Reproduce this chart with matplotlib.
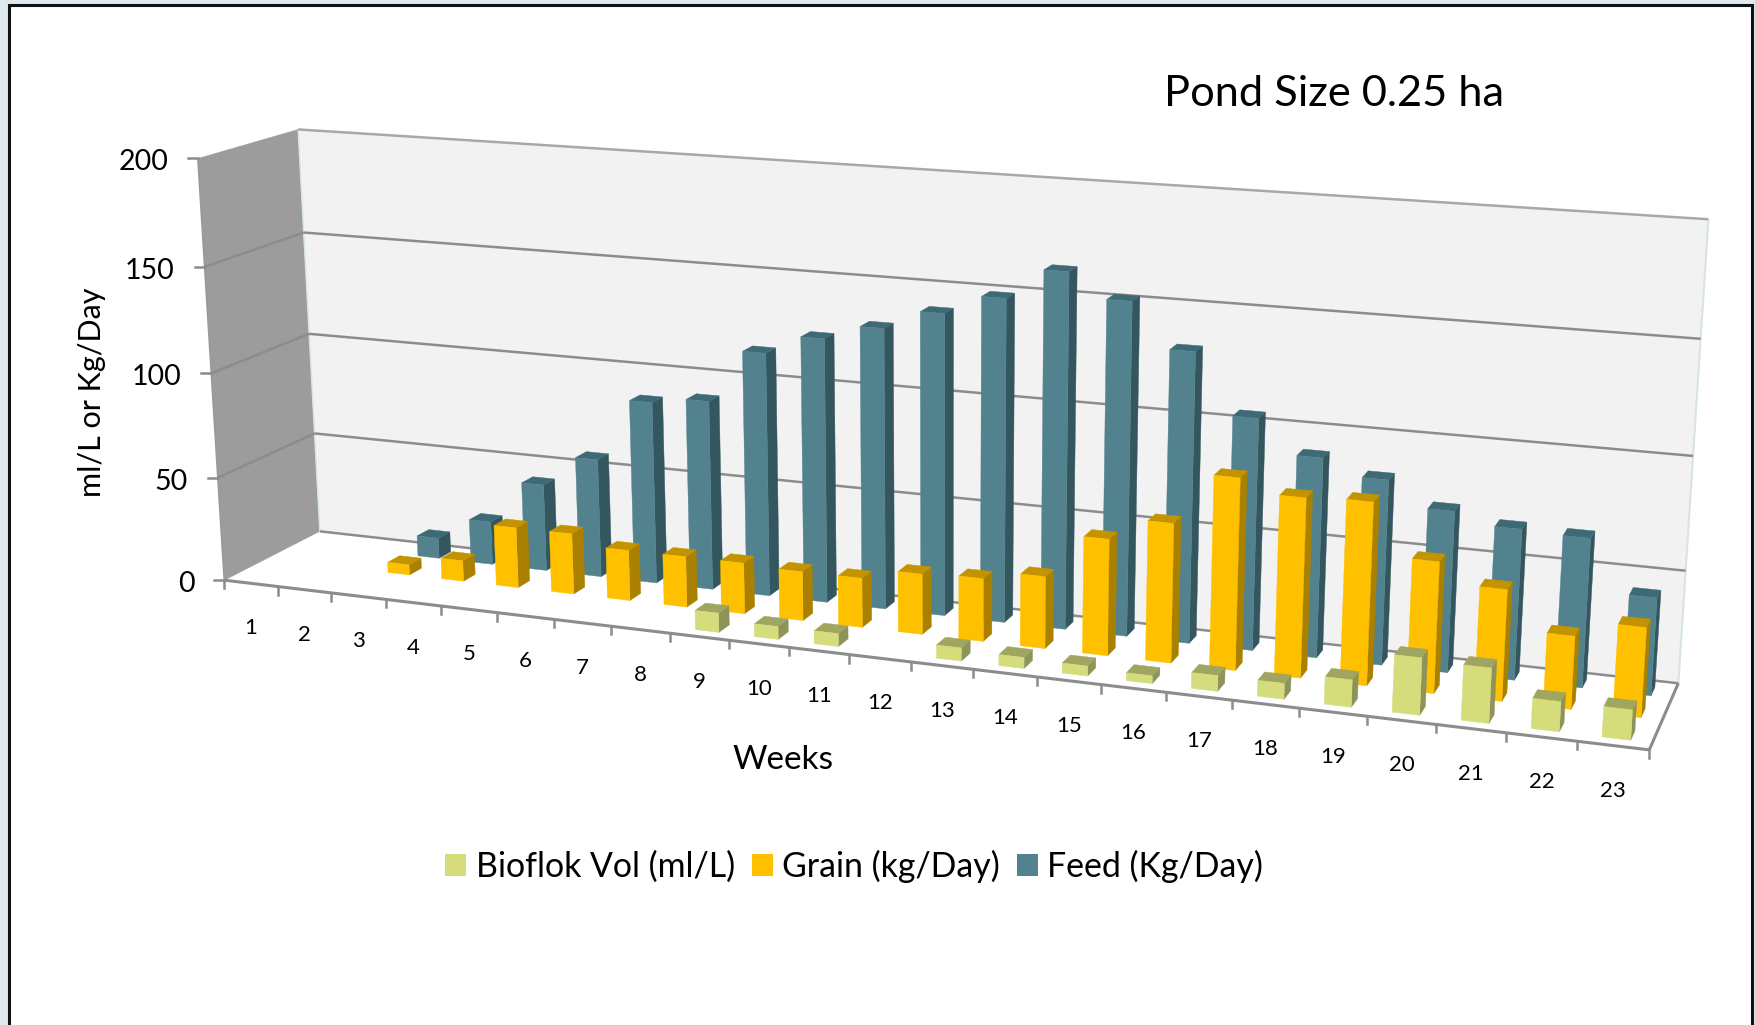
"""Weekly bioflok, grain and feed for a 0.25 ha pond, drawn as a 3D column chart."""

import numpy as np
import matplotlib
matplotlib.use("Agg")
import matplotlib.pyplot as plt
from matplotlib.patches import Patch, Polygon, Rectangle

plt.rcParams["font.family"] = ["Lato", "DejaVu Sans"]

weeks = [str(w) for w in range(1, 24)]
feed = [0, 0, 10, 21, 42, 57, 87, 90, 115, 124, 131, 140, 149, 163, 152, 132,
        105, 90, 83, 72, 67, 66, 43]
grain = [0, 0, 5, 10, 29, 29, 24, 24, 24, 23, 23, 28, 29, 33, 53, 63,
         86, 80, 81, 58, 49, 32, 39]
bioflok = [0, 0, 0, 0, 0, 0, 0, 0, 9, 6, 6, 0, 6, 5, 4.5, 3.5,
           7, 7, 12, 25, 24, 13, 13]
value_ticks = [0, 50, 100, 150, 200]

# front, side, top colours per series, back row first
SERIES = [
    ("Feed (Kg/Day)", feed, 0.767, ("#53828F", "#34565F", "#3E6A76")),
    ("Grain (kg/Day)", grain, 0.433, ("#FFC000", "#AA8000", "#C49400")),
    ("Bioflok Vol (ml/L)", bioflok, 0.100, ("#D4DC7C", "#8E9357", "#A0A55F")),
]
BAR_DEPTH = 0.133
GRID = "#8C8C8C"

# picture positions of the box corners, (week, depth, value) -> (px, py)
CAMERA_POINTS = [
    ((0, 0, 0), (224, 580)), ((23, 0, 0), (1649, 749)),
    ((0, 1, 0), (320, 531)), ((23, 1, 0), (1679, 683)),
    ((0, 0, 200), (198, 158)), ((0, 1, 200), (298, 130)),
    ((23, 1, 200), (1709, 219)), ((0, 1, 100), (309, 334)),
    ((23, 1, 100), (1692, 456)), ((0, 0, 100), (212, 373)),
    ((8, 0, 0), (670, 633)), ((17, 0, 0), (1232, 702)),
]


def fit_camera(points):
    rows, rhs = [], []
    for (x, d, z), (u, v) in points:
        rows.append([x, d, z, 1, 0, 0, 0, 0, -u * x, -u * d, -u * z])
        rows.append([0, 0, 0, 0, x, d, z, 1, -v * x, -v * d, -v * z])
        rhs += [u, v]
    sol = np.linalg.lstsq(np.array(rows, float), np.array(rhs, float), rcond=None)[0]
    return np.append(sol, 1).reshape(3, 4)


CAM = fit_camera(CAMERA_POINTS)


def project(x, d, z):
    u, v, w = CAM @ np.array([x, d, z, 1.0])
    return u / w, v / w


def face(ax, corners, color, zorder):
    ax.add_patch(Polygon([project(*c) for c in corners], closed=True, facecolor=color,
                         edgecolor=color, lw=0.3, zorder=zorder))


def line3d(ax, a, b, color=GRID, lw=1.8, zorder=2):
    pa, pb = project(*a), project(*b)
    ax.plot([pa[0], pb[0]], [pa[1], pb[1]], color=color, lw=lw, zorder=zorder,
            solid_capstyle="butt")


def draw_bar(ax, k, d0, value, colors, zorder):
    x0, x1 = k + 0.3, k + 0.7
    d1 = d0 + BAR_DEPTH
    front, side, top = colors
    face(ax, [(x1, d0, 0), (x1, d1, 0), (x1, d1, value), (x1, d0, value)], side, zorder)
    face(ax, [(x0, d0, value), (x1, d0, value), (x1, d1, value), (x0, d1, value)], top, zorder)
    face(ax, [(x0, d0, 0), (x1, d0, 0), (x1, d0, value), (x0, d0, value)], front, zorder)


fig = plt.figure(figsize=(17.56, 10.25), dpi=100, facecolor="#DEE8ED")
ax = fig.add_axes([0, 0, 1, 1])
ax.set_xlim(0, 1756)
ax.set_ylim(1025, 0)
ax.axis("off")

# slide frame
ax.add_patch(Rectangle((9, 5), 1743, 1040, facecolor="white", edgecolor="#111111", lw=2.2, zorder=0))

# walls and floor
n = len(weeks)
face(ax, [(0, 0, 0), (0, 1, 0), (0, 1, 200), (0, 0, 200)], "#9C9C9C", 1)
face(ax, [(0, 1, 0), (n, 1, 0), (n, 1, 200), (0, 1, 200)], "#F2F2F2", 1)
line3d(ax, (n, 1, 0), (n, 1, 200), color="#D6E4E9", lw=1.5)
line3d(ax, (0, 1, 0), (0, 1, 200), color="#D6E4E9", lw=1.0)
line3d(ax, (0, 0, 0), (0, 0, 200), color="#9A9A9A", lw=1.5)

for v in value_ticks:
    line3d(ax, (0, 1, v), (n, 1, v), color="#A8A8A8" if v == 200 else GRID)
    if v not in (0, 200):
        line3d(ax, (0, 0, v), (0, 1, v))
    px, py = project(0, 0, v)
    ax.plot([px - 10, px], [py, py], color=GRID, lw=1.8, zorder=2)
    ax.text(px - 30, py + 4, str(v), ha="right", va="center", fontsize=20.5, zorder=5)

# floor edges and category ticks
line3d(ax, (0, 0, 0), (n, 0, 0), lw=2.2)
line3d(ax, (n, 0, 0), (n, 1, 0), lw=2.2)
for k in range(n + 1):
    px, py = project(k, 0, 0)
    ax.plot([px, px], [py, py + 8], color=GRID, lw=1.8, zorder=2)
for k, label in enumerate(weeks):
    px, py = project(k + 0.5, 0, 0)
    ax.text(px, py + 45, label, ha="center", va="center", fontsize=16, zorder=5)

# bars, back row first
for order, (name, values, d0, colors) in enumerate(SERIES):
    for k, value in enumerate(values):
        if value > 0:
            draw_bar(ax, k, d0, value, colors, 3 + order + k * 0.01)

ax.text(1334, 94, "Pond Size 0.25 ha", ha="center", va="center", fontsize=31.2, zorder=5)
ax.text(783, 760, "Weeks", ha="center", va="center", fontsize=24, zorder=5)
ax.text(92, 392, "ml/L or Kg/Day", ha="center", va="center", rotation=90, fontsize=22, zorder=5)

handles = [Patch(facecolor=s[3][0], label=s[0]) for s in reversed(SERIES)]
ax.legend(handles=handles, ncol=3, frameon=False, loc="center", bbox_to_anchor=(854 / 1756, 1 - 866 / 1025),
          fontsize=24.4, handlelength=0.62, handleheight=0.62, handletextpad=0.27, columnspacing=0.5,
          borderpad=0, labelspacing=0)

fig.savefig("out.png", dpi=100, facecolor=fig.get_facecolor())
